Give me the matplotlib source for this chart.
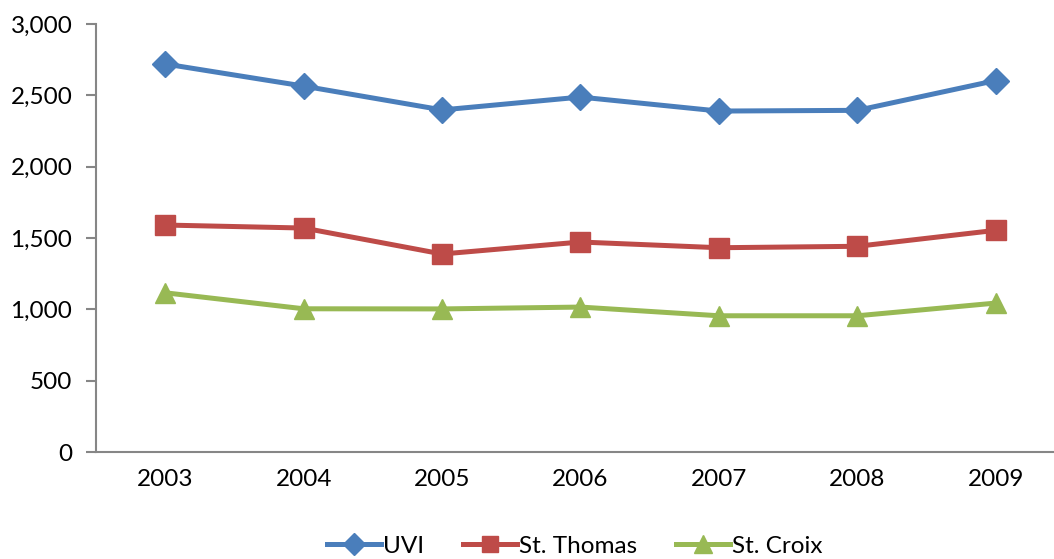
import matplotlib.pyplot as plt
import matplotlib.ticker as mticker

years = ['2003', '2004', '2005', '2006', '2007', '2008', '2009']
uvi = [2720, 2565, 2398, 2488, 2390, 2395, 2604]
st_thomas = [1591, 1570, 1388, 1472, 1432, 1442, 1554]
st_croix = [1116, 1004, 1003, 1016, 955, 955, 1044]

plt.rcParams['font.family'] = ['Lato', 'DejaVu Sans']

fig = plt.figure(figsize=(10.54, 5.59), dpi=100)
ax = fig.add_axes([0.0911, 0.1914, 0.9193, 0.7656])

x = range(len(years))
ax.plot(x, uvi, color='#4A7EBB', lw=3.6, marker='D', ms=13, label='UVI')
ax.plot(x, st_thomas, color='#BE4B48', lw=3.6, marker='s', ms=14, label='St. Thomas')
ax.plot(x, st_croix, color='#98B954', lw=3.6, marker='^', ms=15, label='St. Croix')

ax.set_xlim(-0.5, 6.5)
ax.set_ylim(0, 3000)
ax.set_xticks(list(x))
ax.set_xticklabels(years)
ax.yaxis.set_major_locator(mticker.MultipleLocator(500))
ax.yaxis.set_major_formatter(mticker.FuncFormatter(lambda v, p: f'{int(v):,}'))

for s in ['top', 'right']:
    ax.spines[s].set_visible(False)
for s in ['left', 'bottom']:
    ax.spines[s].set_color('#868686')
    ax.spines[s].set_linewidth(1.5)
ax.tick_params(axis='y', length=7, width=1.5, color='#868686', labelsize=17.5, pad=10)
ax.tick_params(axis='x', length=0, labelsize=17.5, pad=12)

ax.legend(loc='center', bbox_to_anchor=(575 / 1054, 13 / 559), bbox_transform=fig.transFigure,
          ncol=3, frameon=False, fontsize=17.5, handlelength=2.2, handletextpad=0.1,
          columnspacing=1.6, markerscale=0.85)

fig.savefig('out.png', dpi=100)
